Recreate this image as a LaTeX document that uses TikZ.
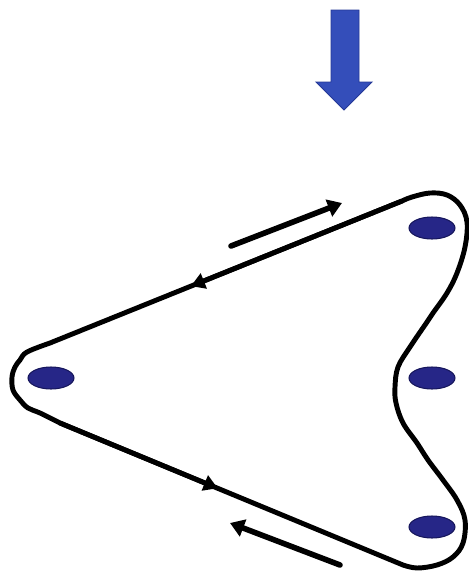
\documentclass[tikz,border=0pt]{standalone}
\usepackage{tikz}
\usetikzlibrary{arrows.meta, calc, shapes.geometric}
\definecolor{pinblue}{RGB}{38,38,135}
\definecolor{pinedge}{RGB}{22,22,92}
\definecolor{loadblue}{RGB}{52,78,186}
\definecolor{loadedge}{RGB}{36,56,150}

\begin{document}
\begin{tikzpicture}[x=0.02cm,y=-0.02cm,
    pin/.style={ellipse,draw=pinedge,fill=pinblue,line width=0.6pt,minimum width=0.92cm,minimum height=0.44cm,inner sep=0pt},
    loopline/.style={line width=2.8pt,line join=round,line cap=round},
    flow/.style={line width=2.8pt,-{Triangle[length=8pt,width=9pt]}},
    slide/.style={line width=3.2pt,line cap=round,-{Triangle[length=8pt,width=10pt]}}]
  \useasboundingbox (0,0) rectangle (469,572);
  % load arrow
  \fill[loadblue,draw=loadedge,line width=0.5pt] (331,10) -- (359,10) -- (359,82) -- (372,82) -- (344,110) -- (316,82) -- (331,82) -- cycle;
  % pins
  \node[pin] (pinL) at (51,378) {};
  \node[pin] (pinTR) at (432,228) {};
  \node[pin] (pinMR) at (432,378) {};
  \node[pin] (pinBR) at (432,527) {};
  % loop around the pins
  \coordinate (uL) at (50,343);
  \coordinate (uR) at (402,201);
  \coordinate (lR) at (403,565);
  \coordinate (lL) at (60,423);
  \draw[loopline] (uL) -- (uR)
    -- plot[smooth,tension=0.6] coordinates {(uR) (412,197) (430,193) (447,195) (460,205) (467,222) (465,247) (457,273) (447,293) (433,313) (427,322) (410,347) (398,367) (395,387) (396,403) (403,423) (417,443) (428,460) (443,480) (457,500) (465,520) (463,543) (453,557) (437,565) (417,568) (lR)}
    -- (lL)
    -- plot[smooth,tension=0.6] coordinates {(lL) (40,413) (28,408) (20,400) (13,390) (12,377) (15,367) (20,360) (27,352) (uL)}
    -- cycle;
  \draw[flow] (uR) -- ($(uR)!0.6!(uL)$);
  \draw[flow] (lL) -- ($(lL)!0.46!(lR)$);
  % sliding arrows
  \coordinate (upTail) at (231,246);
  \coordinate (upHead) at (342,203);
  \coordinate (lowTail) at (340,565);
  \coordinate (lowHead) at (230,523);
  \draw[slide] (upTail) -- (upHead);
  \draw[slide] (lowTail) -- (lowHead);
\end{tikzpicture}
\end{document}
